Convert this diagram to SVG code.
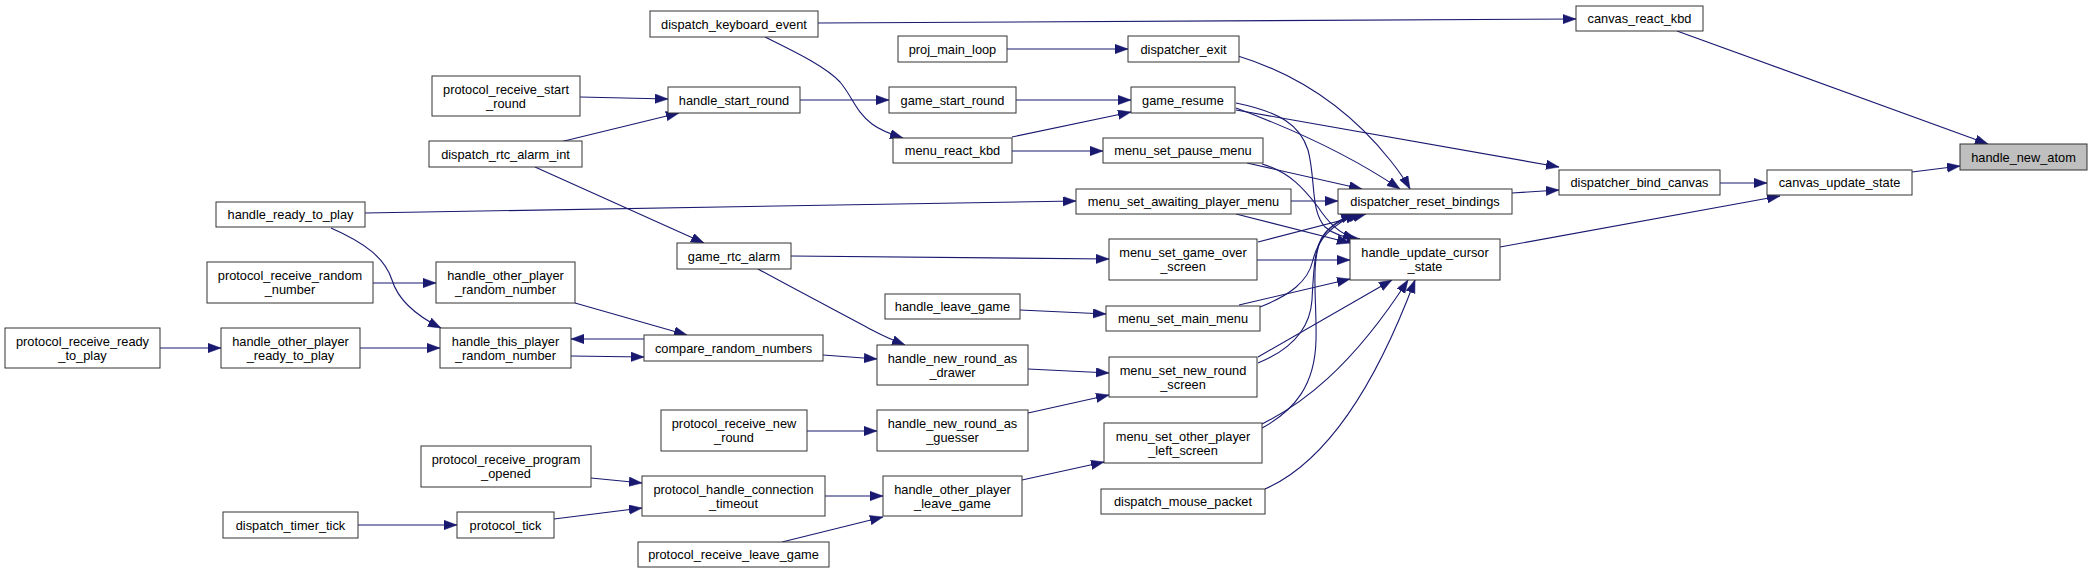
<svg xmlns="http://www.w3.org/2000/svg" width="2092" height="573" viewBox="0 0 2092 573">
<style>
.n rect{fill:#ffffff;stroke:#333333;stroke-width:1}
.n.hl rect{fill:#bfbfbf}
.n text{font-family:"Liberation Sans",Arial,sans-serif;font-size:12.8px;fill:#000;text-anchor:middle}
.e path{fill:none;stroke:#191970;stroke-width:1.1;marker-end:url(#ah)}
</style>
<defs>
<marker id="ah" markerUnits="userSpaceOnUse" markerWidth="14" markerHeight="10" refX="13" refY="4.7" orient="auto" viewBox="0 0 14 10">
<path d="M0,0 L13,4.7 L0,9.4 Z" fill="#191970" stroke="#191970" stroke-width="0.5"/>
</marker>
</defs>
<rect x="0" y="0" width="2092" height="573" fill="#ffffff"/>
<g id="connectors" class="e">
<path d="M1677,31 L1988,144"/>
<path d="M1912,172 L1960,166"/>
<path d="M818,23 L1576,19"/>
<path d="M765,37 C795,52 825,66 840,82 C852,96 856,112 872,124 C880,130 890,134 903,138"/>
<path d="M1007,49 L1128,49"/>
<path d="M800,100 L889,100"/>
<path d="M580,97 L668,99"/>
<path d="M560,142 L679,113"/>
<path d="M535,167 L704,243"/>
<path d="M1016,100 L1131,100"/>
<path d="M1012,137 L1131,112"/>
<path d="M1012,151 L1103,151"/>
<path d="M365,213 L1076,201"/>
<path d="M331,228 C365,243 385,258 392,280 C398,300 415,315 441,328"/>
<path d="M373,283 L436,283"/>
<path d="M160,348 L221,348"/>
<path d="M360,348 L440,348"/>
<path d="M575,303 L687,335"/>
<path d="M644,339 L571,339"/>
<path d="M571,356 L644,357"/>
<path d="M823,355 L877,359"/>
<path d="M758,269 C800,292 850,318 872,330 C885,337 895,341 905,345"/>
<path d="M791,256 L1109,259"/>
<path d="M1020,310 L1106,314"/>
<path d="M1028,369 L1109,373"/>
<path d="M1028,413 L1109,395"/>
<path d="M807,431 L877,431"/>
<path d="M591,478 L642,483"/>
<path d="M554,519 L642,508"/>
<path d="M358,525 L457,525"/>
<path d="M825,496 L883,496"/>
<path d="M782,542 L883,517"/>
<path d="M1022,480 L1104,462"/>
<path d="M1238,56 C1300,75 1350,110 1390,160 C1398,170 1404,178 1410,189"/>
<path d="M1236,108 C1290,128 1350,155 1400,189"/>
<path d="M1236,103 C1280,112 1300,125 1308,150 C1316,180 1310,210 1325,227 C1333,234 1345,238 1360,239"/>
<path d="M1236,110 L1559,167"/>
<path d="M1247,163 L1362,189"/>
<path d="M1262,164 C1290,172 1305,190 1318,207 C1328,222 1338,233 1356,239"/>
<path d="M1291,201 L1338,201"/>
<path d="M1236,214 L1350,243"/>
<path d="M1258,242 L1366,214"/>
<path d="M1257,260 L1350,260"/>
<path d="M1260,307 C1290,295 1308,282 1313,260 C1318,240 1330,225 1358,214"/>
<path d="M1239,305 L1350,279"/>
<path d="M1258,363 C1290,350 1310,330 1312,300 C1314,260 1315,240 1330,228 C1340,220 1350,217 1362,214"/>
<path d="M1258,357 L1392,280"/>
<path d="M1262,428 C1295,410 1315,385 1316,340 C1317,300 1310,260 1322,238 C1330,225 1342,218 1354,214"/>
<path d="M1262,424 C1300,405 1350,370 1408,280"/>
<path d="M1265,489 C1320,465 1370,400 1415,280"/>
<path d="M1512,193 L1559,190"/>
<path d="M1720,183 L1767,183"/>
<path d="M1500,247 L1780,196"/>
</g>
<g id="handle_new_atom" class="n hl"><rect x="1960" y="144" width="127" height="26"/><text x="2023.5" y="161.5">handle_new_atom</text></g>
<g id="canvas_react_kbd" class="n"><rect x="1576" y="6" width="127" height="25"/><text x="1639.5" y="23">canvas_react_kbd</text></g>
<g id="canvas_update_state" class="n"><rect x="1767" y="170" width="145" height="25"/><text x="1839.5" y="187">canvas_update_state</text></g>
<g id="dispatcher_bind_canvas" class="n"><rect x="1559" y="170" width="161" height="25"/><text x="1639.5" y="187">dispatcher_bind_canvas</text></g>
<g id="dispatch_keyboard_event" class="n"><rect x="650" y="11" width="168" height="26"/><text x="734" y="28.5">dispatch_keyboard_event</text></g>
<g id="proj_main_loop" class="n"><rect x="898" y="36" width="109" height="26"/><text x="952.5" y="53.5">proj_main_loop</text></g>
<g id="dispatcher_exit" class="n"><rect x="1128" y="36" width="111" height="26"/><text x="1183.5" y="53.5">dispatcher_exit</text></g>
<g id="protocol_receive_start_round" class="n"><rect x="432" y="76" width="148" height="40"/><text x="506" y="93.5">protocol_receive_start</text><text x="506" y="108">_round</text></g>
<g id="handle_start_round" class="n"><rect x="668" y="87" width="132" height="26"/><text x="734" y="104.5">handle_start_round</text></g>
<g id="game_start_round" class="n"><rect x="889" y="87" width="127" height="26"/><text x="952.5" y="104.5">game_start_round</text></g>
<g id="game_resume" class="n"><rect x="1131" y="87" width="104" height="26"/><text x="1183" y="104.5">game_resume</text></g>
<g id="dispatch_rtc_alarm_int" class="n"><rect x="429" y="141" width="153" height="26"/><text x="505.5" y="158.5">dispatch_rtc_alarm_int</text></g>
<g id="menu_react_kbd" class="n"><rect x="893" y="138" width="119" height="25"/><text x="952.5" y="155">menu_react_kbd</text></g>
<g id="menu_set_pause_menu" class="n"><rect x="1103" y="138" width="160" height="25"/><text x="1183" y="155">menu_set_pause_menu</text></g>
<g id="handle_ready_to_play" class="n"><rect x="216" y="202" width="149" height="25"/><text x="290.5" y="219">handle_ready_to_play</text></g>
<g id="menu_set_awaiting_player_menu" class="n"><rect x="1076" y="189" width="215" height="25"/><text x="1183.5" y="206">menu_set_awaiting_player_menu</text></g>
<g id="dispatcher_reset_bindings" class="n"><rect x="1338" y="189" width="174" height="25"/><text x="1425" y="206">dispatcher_reset_bindings</text></g>
<g id="game_rtc_alarm" class="n"><rect x="677" y="243" width="114" height="26"/><text x="734" y="260.5">game_rtc_alarm</text></g>
<g id="menu_set_game_over_screen" class="n"><rect x="1109" y="239" width="148" height="41"/><text x="1183" y="256.5">menu_set_game_over</text><text x="1183" y="271">_screen</text></g>
<g id="handle_update_cursor_state" class="n"><rect x="1350" y="239" width="150" height="41"/><text x="1425" y="256.5">handle_update_cursor</text><text x="1425" y="271">_state</text></g>
<g id="protocol_receive_random_number" class="n"><rect x="207" y="262" width="166" height="41"/><text x="290" y="279.5">protocol_receive_random</text><text x="290" y="294">_number</text></g>
<g id="handle_other_player_random_number" class="n"><rect x="436" y="262" width="139" height="41"/><text x="505.5" y="279.5">handle_other_player</text><text x="505.5" y="294">_random_number</text></g>
<g id="handle_leave_game" class="n"><rect x="885" y="294" width="135" height="25"/><text x="952.5" y="311">handle_leave_game</text></g>
<g id="menu_set_main_menu" class="n"><rect x="1106" y="306" width="154" height="25"/><text x="1183" y="323">menu_set_main_menu</text></g>
<g id="protocol_receive_ready_to_play" class="n"><rect x="5" y="328" width="155" height="40"/><text x="82.5" y="345.5">protocol_receive_ready</text><text x="82.5" y="360">_to_play</text></g>
<g id="handle_other_player_ready_to_play" class="n"><rect x="221" y="328" width="139" height="40"/><text x="290.5" y="345.5">handle_other_player</text><text x="290.5" y="360">_ready_to_play</text></g>
<g id="handle_this_player_random_number" class="n"><rect x="440" y="328" width="131" height="40"/><text x="505.5" y="345.5">handle_this_player</text><text x="505.5" y="360">_random_number</text></g>
<g id="compare_random_numbers" class="n"><rect x="644" y="335" width="179" height="26"/><text x="733.5" y="352.5">compare_random_numbers</text></g>
<g id="handle_new_round_as_drawer" class="n"><rect x="877" y="345" width="151" height="40"/><text x="952.5" y="362.5">handle_new_round_as</text><text x="952.5" y="377">_drawer</text></g>
<g id="menu_set_new_round_screen" class="n"><rect x="1109" y="357" width="148" height="40"/><text x="1183" y="374.5">menu_set_new_round</text><text x="1183" y="389">_screen</text></g>
<g id="protocol_receive_new_round" class="n"><rect x="661" y="410" width="146" height="41"/><text x="734" y="427.5">protocol_receive_new</text><text x="734" y="442">_round</text></g>
<g id="handle_new_round_as_guesser" class="n"><rect x="877" y="410" width="151" height="41"/><text x="952.5" y="427.5">handle_new_round_as</text><text x="952.5" y="442">_guesser</text></g>
<g id="menu_set_other_player_left_screen" class="n"><rect x="1104" y="423" width="158" height="40"/><text x="1183" y="440.5">menu_set_other_player</text><text x="1183" y="455">_left_screen</text></g>
<g id="protocol_receive_program_opened" class="n"><rect x="421" y="446" width="170" height="41"/><text x="506" y="463.5">protocol_receive_program</text><text x="506" y="478">_opened</text></g>
<g id="protocol_handle_connection_timeout" class="n"><rect x="642" y="476" width="183" height="40"/><text x="733.5" y="493.5">protocol_handle_connection</text><text x="733.5" y="508">_timeout</text></g>
<g id="handle_other_player_leave_game" class="n"><rect x="883" y="476" width="139" height="40"/><text x="952.5" y="493.5">handle_other_player</text><text x="952.5" y="508">_leave_game</text></g>
<g id="dispatch_mouse_packet" class="n"><rect x="1101" y="489" width="164" height="25"/><text x="1183" y="506">dispatch_mouse_packet</text></g>
<g id="dispatch_timer_tick" class="n"><rect x="223" y="512" width="135" height="26"/><text x="290.5" y="529.5">dispatch_timer_tick</text></g>
<g id="protocol_tick" class="n"><rect x="457" y="512" width="97" height="26"/><text x="505.5" y="529.5">protocol_tick</text></g>
<g id="protocol_receive_leave_game" class="n"><rect x="638" y="542" width="191" height="25"/><text x="733.5" y="559">protocol_receive_leave_game</text></g>
</svg>
